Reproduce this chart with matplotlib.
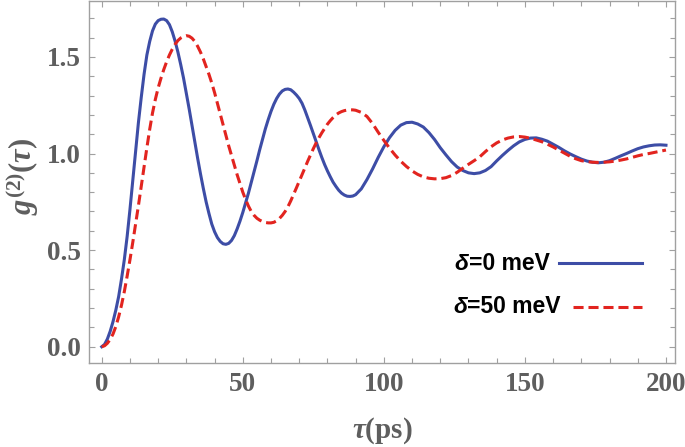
import matplotlib
matplotlib.use('Agg')
import matplotlib.pyplot as plt
from matplotlib.ticker import MultipleLocator

# curve values (delta = 0 meV)
tau_0 = [0, 1, 2, 3, 4, 5, 6, 7, 8, 9, 10, 11, 12, 13, 14, 15, 16, 17, 18, 19,
         20, 21, 22, 23, 24, 25, 26, 27, 28, 29, 30, 31, 32, 33, 34, 35, 36, 37, 38, 39,
         40, 41, 42, 43, 44, 45, 46, 47, 48, 49, 50, 51, 52, 53, 54, 55, 56, 57, 58, 59,
         60, 61, 62, 63, 64, 65, 66, 67, 68, 69, 70, 71, 72, 73, 74, 75, 76, 77, 78, 79,
         80, 81, 82, 83, 84, 85, 86, 87, 88, 89, 90, 92, 94, 96, 98, 100, 102, 104, 106,
         108, 110, 112, 114, 116, 118, 120, 122, 124, 126, 128, 130, 132, 134, 136, 138,
         140, 142, 144, 146, 148, 150, 152, 154, 156, 158, 160, 162, 164, 166, 168, 170,
         172, 174, 176, 178, 180, 182, 184, 186, 188, 190, 192, 194, 196, 198, 200]
g2_0 = [0, 0.012, 0.04, 0.08, 0.13, 0.19, 0.26, 0.35, 0.45, 0.57, 0.71, 0.86, 1.01, 1.16,
        1.29, 1.41, 1.51, 1.58, 1.635, 1.67, 1.688, 1.695, 1.696, 1.688, 1.667, 1.63, 1.582,
        1.525, 1.46, 1.39, 1.31, 1.23, 1.145, 1.06, 0.975, 0.895, 0.82, 0.75, 0.69, 0.635,
        0.595, 0.565, 0.545, 0.533, 0.53, 0.535, 0.55, 0.575, 0.61, 0.65, 0.695, 0.745, 0.795,
        0.85, 0.905, 0.962, 1.02, 1.075, 1.128, 1.175, 1.218, 1.255, 1.285, 1.308, 1.324,
        1.332, 1.334, 1.33, 1.318, 1.303, 1.285, 1.26, 1.225, 1.185, 1.145, 1.103, 1.06, 1.02,
        0.98, 0.943, 0.91, 0.88, 0.852, 0.83, 0.81, 0.795, 0.785, 0.779, 0.778, 0.78, 0.787,
        0.817, 0.865, 0.92, 0.98, 1.035, 1.082, 1.12, 1.147, 1.16, 1.162, 1.153, 1.137,
        1.108, 1.072, 1.03, 0.993, 0.958, 0.93, 0.912, 0.9, 0.896, 0.9, 0.912, 0.932, 0.962,
        0.99, 1.016, 1.04, 1.06, 1.073, 1.08, 1.081, 1.074, 1.064, 1.048, 1.032, 1.014,
        0.998, 0.984, 0.971, 0.961, 0.955, 0.952, 0.955, 0.963, 0.975, 0.988, 1.0, 1.013,
        1.025, 1.034, 1.04, 1.044, 1.045, 1.043]

# curve values (delta = 50 meV)
tau_50 = tau_0
g2_50 = [0, 0.005, 0.018, 0.038, 0.066, 0.105, 0.155, 0.215, 0.285, 0.365, 0.45, 0.54,
         0.635, 0.73, 0.83, 0.93, 1.03, 1.125, 1.21, 1.28, 1.34, 1.39, 1.435, 1.475, 1.51,
         1.54, 1.565, 1.585, 1.598, 1.606, 1.61, 1.607, 1.597, 1.58, 1.555, 1.525, 1.49,
         1.45, 1.41, 1.365, 1.315, 1.26, 1.205, 1.15, 1.095, 1.04, 0.99, 0.94, 0.89, 0.845,
         0.8, 0.762, 0.728, 0.7, 0.68, 0.665, 0.655, 0.648, 0.643, 0.641, 0.641, 0.644,
         0.652, 0.664, 0.68, 0.7, 0.725, 0.755, 0.788, 0.822, 0.856, 0.89, 0.925, 0.96, 0.993,
         1.025, 1.055, 1.082, 1.107, 1.13, 1.152, 1.17, 1.186, 1.2, 1.21, 1.217, 1.222, 1.225,
         1.226, 1.226, 1.224, 1.213, 1.192, 1.155, 1.11, 1.068, 1.028, 0.992, 0.96, 0.933,
         0.91, 0.892, 0.879, 0.872, 0.869, 0.87, 0.875, 0.886, 0.903, 0.924, 0.944, 0.963,
         0.983, 1.01, 1.035, 1.055, 1.07, 1.08, 1.086, 1.088, 1.085, 1.079, 1.07, 1.061,
         1.048, 1.034, 1.018, 1.002, 0.986, 0.973, 0.963, 0.958, 0.955, 0.954, 0.955, 0.957,
         0.961, 0.966, 0.972, 0.98, 0.988, 0.995, 1.0, 1.006, 1.012, 1.018]

labels = ['=0 meV', '=50 meV']

plt.rcParams['mathtext.fontset'] = 'custom'
plt.rcParams['mathtext.rm'] = 'Liberation Serif:bold'
plt.rcParams['mathtext.bf'] = 'Liberation Serif:bold'
plt.rcParams['mathtext.it'] = 'Liberation Serif:italic:bold'

blue = '#3d4da6'
red = '#e2241f'
gray = '#5e5e5e'
frame = '#a0a0a0'

fig = plt.figure(figsize=(6.85, 4.47), dpi=100)
ax = fig.add_axes([0.1304, 0.188, 0.855, 0.810])

ax.plot(tau_0, g2_0, color=blue, lw=2.2)
ax.plot(tau_50, g2_50, color=red, lw=2.2, dashes=(3.3, 1.6))

ax.set_xlim(-4.4, 203.2)
ax.set_ylim(-0.084, 1.79)
ax.xaxis.set_major_locator(MultipleLocator(50))
ax.xaxis.set_minor_locator(MultipleLocator(10))
ax.yaxis.set_major_locator(MultipleLocator(0.5))
ax.yaxis.set_minor_locator(MultipleLocator(0.1))
ax.yaxis.set_major_formatter(plt.FuncFormatter(lambda v, p: '%.1f' % v))

for s in ax.spines.values():
    s.set_color(frame)
    s.set_linewidth(1.0)
ax.tick_params(which='both', direction='in', top=True, right=True, color=frame, width=0.8)
ax.tick_params(which='major', length=4.5)
ax.tick_params(which='minor', length=3.5)
ax.tick_params(axis='x', which='major', pad=6.5)
ax.tick_params(axis='y', which='major', pad=6)
for lab in ax.get_xticklabels() + ax.get_yticklabels():
    lab.set_fontfamily('Liberation Serif')
    lab.set_fontweight('bold')
    lab.set_fontsize(19.5)
    lab.set_color(gray)

ax.set_xlabel(r'$\tau$(ps)', fontfamily='Liberation Serif', fontweight='bold',
              fontsize=21, color=gray)
ax.xaxis.set_label_coords(0.5, -0.145)
ax.set_ylabel(r'$g^{(2)}(\tau)$', fontsize=22, color=gray)
ax.yaxis.set_label_coords(-0.115, 0.514)
ax.yaxis.label.set_va('center')

# hand-made legend: text first, line sample after it
leg_y = [0.276, 0.155]
leg_x = [0.624, 0.621]
line_x0 = [0.802, 0.826]
styles = [dict(color=blue, lw=2.2), dict(color=red, lw=2.2, dashes=(3.3, 1.6))]
for lab, x, y, x0, st in zip(labels, leg_x, leg_y, line_x0, styles):
    t = ax.text(x, y, '\u03b4', transform=ax.transAxes, fontfamily='Liberation Sans',
                fontweight='bold', style='italic', fontsize=16.5, va='center', ha='left')
    ax.annotate(lab, xy=(1, 0), xycoords=t, va='bottom', ha='left',
                fontfamily='Liberation Sans', fontweight='bold', fontsize=16.5)
    ax.plot([x0, 0.943], [y, y], transform=ax.transAxes, **st)

fig.savefig('out.png', dpi=100)
